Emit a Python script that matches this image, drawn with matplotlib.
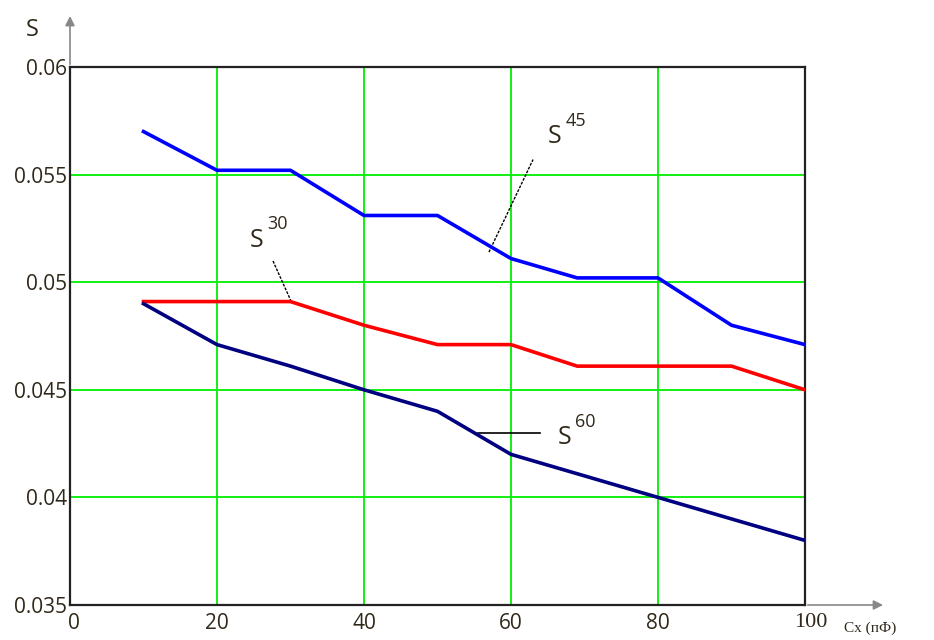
import matplotlib.pyplot as plt
from matplotlib.transforms import ScaledTranslation

# values
cx = [10, 20, 30, 40, 50, 60, 70, 80, 90, 100]
cx_steps = [10, 20, 30, 40, 50, 60, 69, 80, 90, 100]

s45 = [0.0570, 0.0552, 0.0552, 0.0531, 0.0531, 0.0511, 0.0502, 0.0502, 0.0480, 0.0471]
s30 = [0.0491, 0.0491, 0.0491, 0.0480, 0.0471, 0.0471, 0.0461, 0.0461, 0.0461, 0.0450]
s60 = [0.0490, 0.0471, 0.0461, 0.0450, 0.0440, 0.0420, 0.0410, 0.0400, 0.0390, 0.0380]

x_ticks = [0, 20, 40, 60, 80, 100]
y_ticks = [0.035, 0.04, 0.045, 0.05, 0.055, 0.06]
y_tick_labels = ["0.035", "0.04", "0.045", "0.05", "0.055", "0.06"]

SANS = ["Open Sans", "DejaVu Sans"]
SERIF = ["Liberation Serif", "DejaVu Serif"]
TEXT_COLOR = "#30281a"

fig = plt.figure(figsize=(9.34, 6.4), dpi=100)
ax = fig.add_axes([70 / 934, 1 - 605 / 640, 735 / 934, 538 / 640])

ax.plot(cx_steps, s45, color="#0000ff", lw=2.6, zorder=3)
ax.plot(cx_steps, s30, color="#ff0000", lw=2.6, zorder=3)
ax.plot(cx, s60, color="#000080", lw=2.6, zorder=3)

ax.set_xlim(0, 100)
ax.set_ylim(0.035, 0.06)
ax.set_xticks(x_ticks)
ax.set_yticks(y_ticks)
ax.set_yticklabels(y_tick_labels)
ax.grid(True, color="#00ee00", lw=1.3)
ax.tick_params(length=0, labelsize=15, colors=TEXT_COLOR)
ax.tick_params(axis="y", pad=2)
ax.tick_params(axis="x", pad=6)
for lab in ax.get_xticklabels() + ax.get_yticklabels():
    lab.set_fontfamily(SANS)

# the first and last x labels sit a little right of their grid lines
xlabs = ax.get_xticklabels()
xlabs[0].set_transform(xlabs[0].get_transform()
                       + ScaledTranslation(4 / 100, 0, fig.dpi_scale_trans))
xlabs[-1].set_fontfamily(SERIF)
xlabs[-1].set_fontsize(16)
xlabs[-1].set_transform(xlabs[-1].get_transform()
                        + ScaledTranslation(6 / 100, 0, fig.dpi_scale_trans))

for spine in ax.spines.values():
    spine.set_color("#222222")
    spine.set_linewidth(1.6)

# axis arrows
ax.annotate("", xy=(0, 1.1), xytext=(0, 1.0), xycoords="axes fraction",
            arrowprops=dict(arrowstyle="-|>", color="#888888", lw=1.2,
                            mutation_scale=14))
ax.annotate("", xy=(1.11, 0), xytext=(1.0, 0), xycoords="axes fraction",
            arrowprops=dict(arrowstyle="-|>", color="#888888", lw=1.2,
                            mutation_scale=14))
fig.text(32 / 934, 1 - 30 / 640, "S", fontsize=17, family=SANS,
         color=TEXT_COLOR, ha="center", va="center")
fig.text(870 / 934, 1 - 628 / 640, "Cx (пФ)", fontsize=11, family=SERIF,
         color=TEXT_COLOR, ha="center", va="center")

# curve labels with leader lines
ax.plot([57, 63], [0.0514, 0.0557], color="black", lw=1.0, ls=(0, (2, 1)))
ax.plot([30.1, 27.6], [0.0491, 0.0510], color="black", lw=1.0, ls=(0, (2, 1)))
ax.plot([55.5, 63.9], [0.0430, 0.0430], color="black", lw=1.2)

labels = [(65.0, 0.05675, 0.0575, "45"),
          (24.4, 0.05196, 0.0527, "30"),
          (66.3, 0.0428, 0.0435, "60")]
for x, y, y_sup, sup in labels:
    ax.text(x, y, "S", fontsize=18, family=SANS, color=TEXT_COLOR,
            ha="left", va="center")
    ax.text(x + 2.4, y_sup, sup, fontsize=13, family=SANS,
            color=TEXT_COLOR, ha="left", va="center")

fig.savefig("out.png", dpi=100)
